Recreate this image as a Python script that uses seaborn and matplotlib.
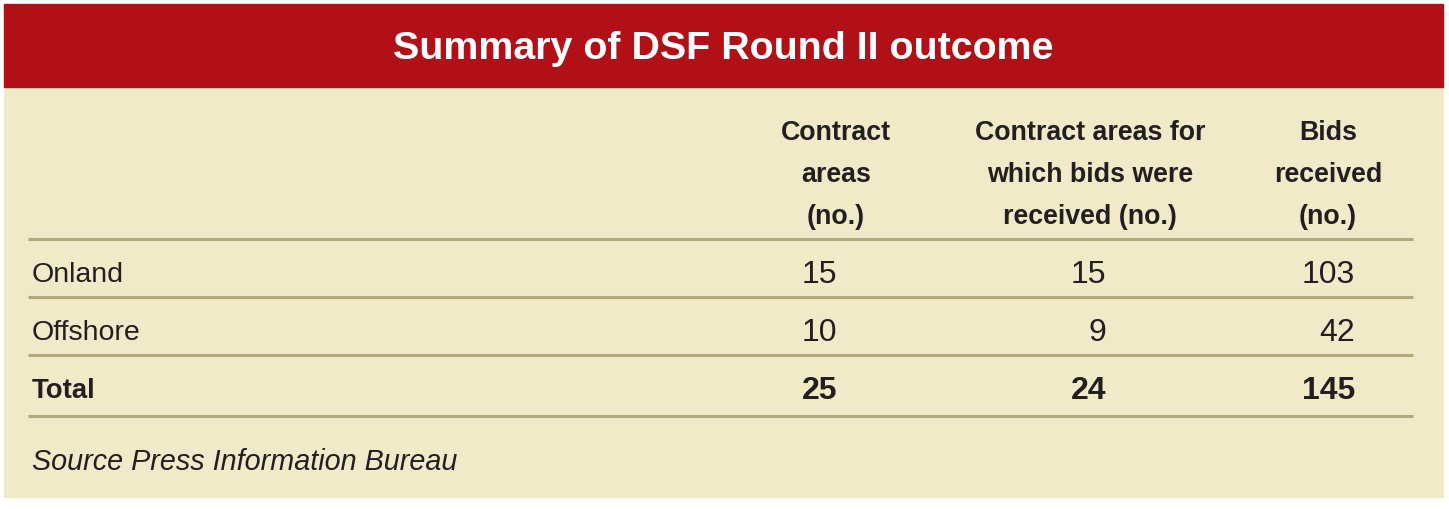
import matplotlib.pyplot as plt
import matplotlib.patches as mpatches
import pandas as pd
import seaborn as sns

# table content
title = "Summary of DSF Round II outcome"
row_labels = ["Onland", "Offshore", "Total"]
col_headers = [
    "Contract\nareas\n(no.)",
    "Contract areas for\nwhich bids were\nreceived (no.)",
    "Bids\nreceived\n(no.)",
]
contract_areas = [15, 10, 25]
areas_with_bids = [15, 9, 24]
bids_received = [103, 42, 145]
source_note = "Source Press Information Bureau"

df = pd.DataFrame(
    {
        "contract_areas": contract_areas,
        "areas_with_bids": areas_with_bids,
        "bids_received": bids_received,
    },
    index=row_labels,
)

RED = "#B01016"
CREAM = "#F0EAC8"
RULE = "#B2AA7C"
INK = "#231F20"

sns.set_theme(style="white")
plt.rcParams["font.family"] = ["Liberation Sans", "DejaVu Sans"]

W, H = 1449, 509
fig = plt.figure(figsize=(W / 100, H / 100), dpi=100)
ax = fig.add_axes([0, 0, 1, 1])
ax.set_xlim(0, W)
ax.set_ylim(H, 0)
ax.axis("off")

# panel background and header band
ax.add_patch(mpatches.Rectangle((4, 87), 1439, 410, color=CREAM, zorder=0))
ax.add_patch(mpatches.Rectangle((4, 4), 1439, 83, color=RED, zorder=1))
ax.text(723, 49, title, color="white", fontsize=28.4, fontweight="bold",
        ha="center", va="center", zorder=2)

# column layout
header_x = [836, 1090, 1328]
value_right = [837, 1106, 1355]

for x, label in zip(header_x, col_headers):
    ax.text(x, 175, label, ha="center", va="center", fontsize=19.3,
            fontweight="bold", color=INK, linespacing=1.82)

# rule lines
ax.hlines([239, 297, 355, 416], 28, 1413, color=RULE, linewidth=2.2)

row_y = [275, 333, 391]
for i, (name, row) in enumerate(df.iterrows()):
    bold = name == "Total"
    ax.text(32, row_y[i], name, ha="left", va="center",
            fontsize=19.8 if bold else 20.5,
            fontweight="bold" if bold else "normal", color=INK)
    for x, val in zip(value_right, row.values):
        ax.text(x, row_y[i], str(val), ha="right", va="center", fontsize=23,
                fontweight="bold" if bold else "normal", color=INK)

ax.text(32, 462, source_note, ha="left", va="center", fontsize=20.7,
        style="italic", color=INK)

fig.savefig("out.png", dpi=100, facecolor="white")
